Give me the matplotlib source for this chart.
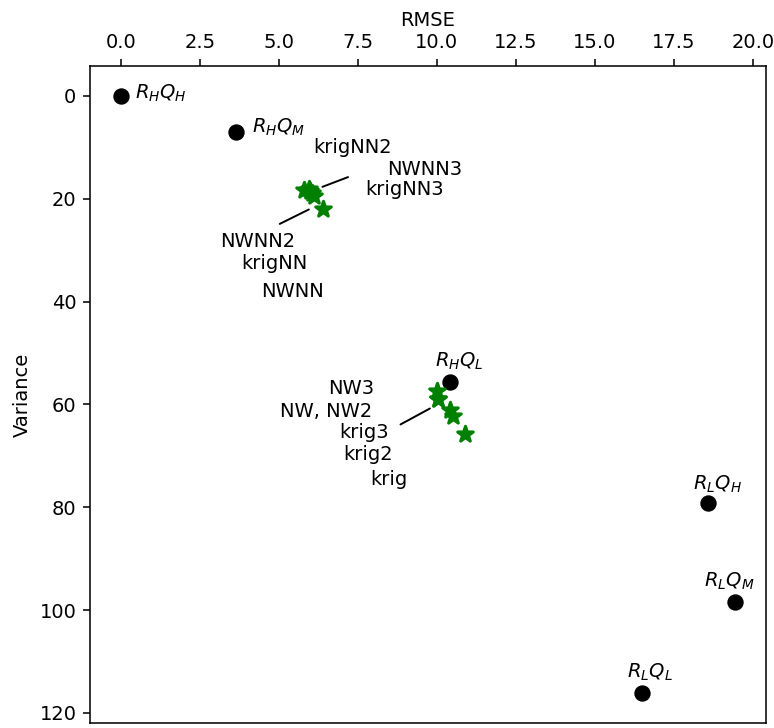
import matplotlib
matplotlib.use("Agg")
import matplotlib.pyplot as plt

# Reference (black) points
ref_labels = [r"$R_HQ_H$", r"$R_HQ_M$", r"$R_HQ_L$", r"$R_LQ_H$", r"$R_LQ_M$", r"$R_LQ_L$"]
ref_rmse = [0.0, 3.64, 10.43, 18.59, 19.44, 16.50]
ref_var = [0.0, 7.05, 55.7, 79.2, 98.5, 116.2]
ref_label_x = [0.44, 4.14, 10.70, 18.88, 19.24, 16.74]
ref_label_y = [-0.5, 6.2, 51.6, 75.6, 94.5, 112.1]
ref_label_ha = ["left", "left", "center", "center", "center", "center"]

# Method (green star) points
meth_labels = ["NWNN", "krigNN", "NWNN2", "krigNN2", "NWNN3", "krigNN3",
               "NW", "NW2", "NW3", "krig", "krig2", "krig3"]
meth_rmse = [5.80, 5.95, 6.05, 6.11, 6.00, 6.40,
             10.04, 10.04, 9.99, 10.89, 10.52, 10.41]
meth_var = [18.3, 18.1, 18.9, 19.5, 18.6, 22.1,
            59.0, 59.0, 57.4, 65.8, 62.3, 61.0]

# Text labels for the method points
txt_labels = ["krigNN2", "NWNN3", "krigNN3", "NWNN2", "krigNN", "NWNN",
              "NW3", "NW, NW2", "krig3", "krig2", "krig"]
txt_x = [7.34, 9.62, 8.99, 4.34, 4.87, 5.44, 7.30, 6.51, 7.70, 7.81, 8.48]
txt_y = [10.1, 14.4, 18.2, 28.4, 32.6, 38.0, 57.0, 61.3, 65.5, 69.7, 74.6]

# Connector lines (start -> end)
conn_start = [(7.19, 15.8), (5.03, 24.9), (8.85, 63.9)]
conn_end = [(6.38, 17.7), (5.95, 22.1), (9.78, 60.8)]

fig = plt.figure(figsize=(774 / 140, 728 / 140), dpi=140)
ax = fig.add_axes([0.1163, 0.0065, 0.8734, 0.9029])

ax.scatter(ref_rmse, ref_var, s=55, color="black", zorder=3)
ax.scatter(meth_rmse, meth_var, s=70, marker="*", color="green",
           edgecolor="green", linewidth=1.6, zorder=3)

for lab, x, y, ha in zip(ref_labels, ref_label_x, ref_label_y, ref_label_ha):
    ax.text(x, y, lab, ha=ha, va="center", fontsize=10)

for lab, x, y in zip(txt_labels, txt_x, txt_y):
    ax.text(x, y, lab, ha="center", va="center", fontsize=10)

for s, e in zip(conn_start, conn_end):
    ax.annotate("", xy=e, xytext=s,
                arrowprops=dict(arrowstyle="-", color="black", lw=1.0,
                                shrinkA=0, shrinkB=0))

ax.invert_yaxis()
ax.xaxis.tick_top()
ax.xaxis.set_label_position("top")
ax.set_xlabel("RMSE")
ax.set_ylabel("Variance")
ax.set_xticks([0, 2.5, 5, 7.5, 10, 12.5, 15, 17.5, 20])

fig.savefig("out.png", dpi=140)
